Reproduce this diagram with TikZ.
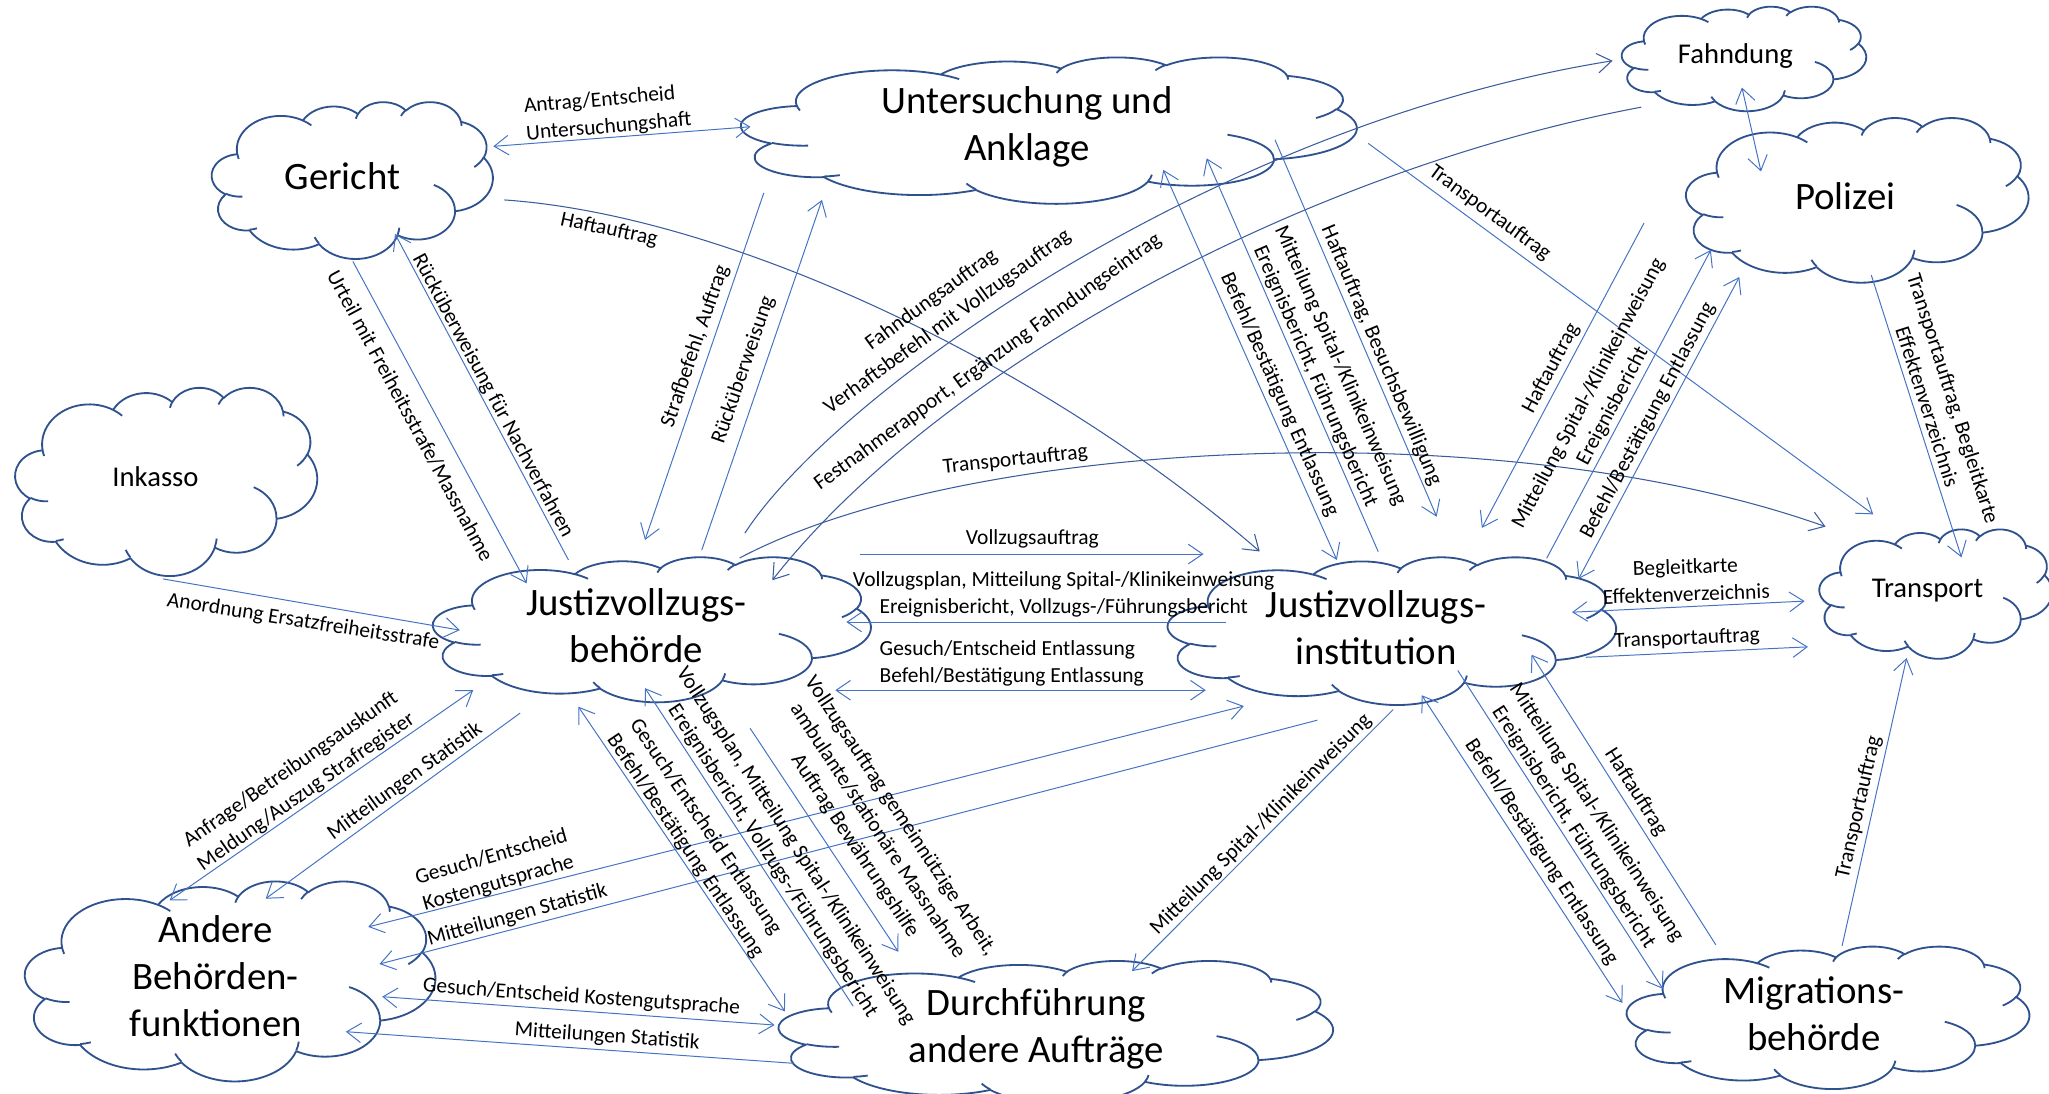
\documentclass[tikz,border=0pt]{standalone}
\usepackage{fontspec}
\setmainfont{Carlito}
\usetikzlibrary{arrows.meta,calc}

\definecolor{cloudblue}{HTML}{2F528F}
\definecolor{flowblue}{HTML}{4472C4}
\definecolor{curveblue}{HTML}{3A5C9E}

\tikzset{
  % elliptic arc given like a DrawingML arcTo: radii, visual start angle, sweep
  oarc/.code n args={4}{%
    \pgfmathsetmacro\oarcA{atan2((#1)*sin(#3),(#2)*cos(#3))}%
    \pgfmathsetmacro\oarcB{atan2((#1)*sin((#3)+(#4)),(#2)*cos((#3)+(#4)))}%
    \pgfmathsetmacro\oarcD{mod(\oarcB-\oarcA+720,360)}%
    \edef\oarcKeys{\noexpand\pgfkeysalso{start angle=\oarcA, delta angle=\oarcD, x radius=#1, y radius=#2}}%
    \oarcKeys},
  cloud outline/.style={draw=cloudblue, line width=1.4bp, line join=round},
  bigtext/.style={font=\fontsize{29.8}{36}\selectfont, align=center, inner sep=0pt},
  smalltext/.style={font=\fontsize{22}{26}\selectfont, align=center, inner sep=0pt},
  msg/.style={draw=flowblue, line width=0.75bp, ->},
  msgboth/.style={draw=flowblue, line width=0.75bp, <->},
  msgcurve/.style={draw=curveblue, line width=0.8bp, ->},
  lbl/.style={font=\fontsize{16.5}{21}\selectfont, inner sep=0pt, align=center},
}

% cloud outline of the usual office shape, text centred at (#2,#3)
\newcommand\officecloud[7]{%
  \pgfmathsetmacro\ocX{#2-0.4646*#4}%
  \pgfmathsetmacro\ocY{#3-0.477*#5}%
  \pgfmathsetmacro\ocW{#4/43.2}%
  \pgfmathsetmacro\ocH{#5/43.2}%
  \begin{scope}[shift={(\ocX,\ocY)}, x=\ocW bp, y=-\ocH bp]
    \path[cloud outline, fill=white] (3.9,14.37)
      arc[oarc={6.753}{9.19}{-190.48748}{123.78053}]
      arc[oarc={5.333}{7.267}{-144.10238}{89.94523}]
      arc[oarc={4.365}{5.945}{-145.80792}{99.72302}]
      arc[oarc={4.857}{6.595}{-130.98607}{117.24173}]
      arc[oarc={5.333}{7.273}{-78.70888}{109.02692}]
      arc[oarc={6.775}{9.22}{-46.26725}{130.269}]
      arc[oarc={5.785}{7.867}{0.62502}{114.03333}]
      arc[oarc={6.752}{9.215}{22.4516}{115.17255}]
      arc[oarc={7.72}{10.543}{66.24263}{75.71102}]
      arc[oarc={4.36}{5.918}{-274.94208}{146.73557}]
      arc[oarc={4.345}{5.945}{-246.8285}{152.51885}]
      -- cycle;
    \path[cloud outline]
      (4.693,26.177) arc[oarc={4.345}{5.945}{86.742}{26.4295}]
      (6.928,34.899) arc[oarc={4.36}{5.918}{73.61047}{11.44747}]
      (16.478,39.09) arc[oarc={6.752}{9.215}{137.62415}{14.0811}]
      (28.827,34.751) arc[oarc={6.752}{9.215}{6.45327}{15.99835}]
      (34.129,22.954) arc[oarc={5.785}{7.867}{-70.29235}{70.91737}]
      (41.798,15.354) arc[oarc={5.333}{7.273}{30.31803}{27.7515}]
      (38.324,5.426) arc[oarc={4.857}{6.595}{-13.74433}{14.8589}]
      (29.078,3.952) arc[oarc={4.857}{6.595}{-149.18145}{18.19537}]
      (22.141,4.72) arc[oarc={4.365}{5.945}{-163.49427}{17.68635}]
      (14,5.192) arc[oarc={6.753}{9.19}{-66.70695}{12.31935}]
      (4.127,15.789) arc[oarc={6.753}{9.19}{157.65435}{11.85817}];
  \end{scope}
  \node[#6] (#1) at (#2,#3) {#7};
}

\begin{document}
\begin{tikzpicture}[x=1bp, y=-1bp, >={Straight Barb[length=11bp,width=15bp]}]
\fill[white] (0,0) rectangle (1568,837);
\useasboundingbox (0,0) rectangle (1568,837);

% ---------- organisations ----------
\officecloud{ger}{262}{135}{215}{120}{bigtext}{Gericht}
\officecloud{ink}{119}{365}{231}{144}{smalltext}{Inkasso}
\officecloud{ua}{786}{97}{471}{112}{bigtext}{Untersuchung und\\Anklage}
\officecloud{fahn}{1328}{43}{187}{80}{smalltext}{Fahndung}
\officecloud{pol}{1412}{150}{262}{126}{bigtext}{Polizei}
\officecloud{trans}{1475}{452}{178}{99}{smalltext}{Transport}
\officecloud{jvb}{487}{479}{335}{111}{bigtext}{Justizvollzugs-\\behörde}
\officecloud{jvi}{1053}{480}{343}{113}{bigtext}{Justizvollzugs-\\institution}
\officecloud{abf}{165}{747}{314}{153}{bigtext}{Andere\\Behörden-\\funktionen}
\officecloud{dur}{793}{787}{424}{109}{bigtext}{Durchführung\\andere Aufträge}
\officecloud{mig}{1388}{776}{308}{109}{bigtext}{Migrations-\\behörde}

% ---------- flows ----------
% Gericht
\draw[msgboth] ($(ger)+(115.5,-23)$) -- ($(ua)+(-211.7,0)$);
\draw[msgcurve] ($(ger)+(124,18)$) .. controls +(174,12) and +(-164,-142) .. ($(jvi)+(-89,-58)$);
\draw[msg] ($(ger)+(8,65)$) -- ($(jvb)+(-84,-32.6)$);
\draw[msg] ($(jvb)+(-52,-50.5)$) -- ($(ger)+(40.3,44)$);
% Untersuchung und Anklage / Justizvollzugsbehoerde
\draw[msg] ($(ua)+(-201.5,50.6)$) -- ($(jvb)+(6.6,-65.8)$);
\draw[msg] ($(jvb)+(50,-58)$) -- ($(ua)+(-157,56)$);
% Fahndung and transport curves
\draw[msgcurve] ($(jvb)+(83,-71)$) .. controls +(70,-108) and +(-304,48.5) .. ($(fahn)+(-94,3.5)$);
\draw[msgcurve] ($(fahn)+(-72,39)$) .. controls +(-256,48) and +(129,-164) .. ($(jvb)+(104,-35)$);
\draw[msgcurve] ($(jvb)+(79,-52)$) .. controls +(174,-92) and +(-247,-88) .. ($(trans)+(-78,-49)$);
\draw[msg] ($(ua)+(261,12.7)$) -- ($(trans)+(-41.5,-58.4)$);
% Untersuchung und Anklage / Justizvollzugsinstitution
\draw[msgboth] ($(ua)+(104.2,33)$) -- ($(jvi)+(-30,-51.5)$);
\draw[msg] ($(jvi)+(1.7,-57.8)$) -- ($(ua)+(137.4,24.2)$);
\draw[msg] ($(ua)+(189.7,10)$) -- ($(jvi)+(46.4,-84.6)$);
% Polizei
\draw[msg] ($(pol)+(-154,20.8)$) -- ($(jvi)+(81,-76)$);
\draw[msg] ($(jvi)+(130.6,-52.8)$) -- ($(pol)+(-102.8,41.3)$);
\draw[msgboth] ($(pol)+(-81,62)$) -- ($(jvi)+(155,-37)$);
\draw[msgboth] ($(fahn)+(5,24)$) -- ($(pol)+(-64.4,-18.8)$);
\draw[msg] ($(pol)+(20,60.5)$) -- ($(trans)+(26,-25.5)$);
% Transport
\draw[msgboth] ($(jvi)+(150,-11.5)$) -- ($(trans)+(-94,8)$);
\draw[msg] ($(jvi)+(160.5,23)$) -- ($(trans)+(-91.5,43)$);
% Justizvollzugsbehoerde / Justizvollzugsinstitution
\draw[msg] ($(jvb)+(171,-55)$) -- ($(jvi)+(-132,-56)$);
\draw[msg] ($(jvi)+(-115,-4)$) -- ($(jvb)+(160.7,-3)$);
\draw[msgboth] ($(jvb)+(152.2,49.2)$) -- ($(jvi)+(-130.3,48.2)$);
% Inkasso
\draw[msg] ($(ink)+(5.7,78)$) -- ($(jvb)+(-135.1,3.2)$);
% Andere Behoerdenfunktionen
\draw[msgboth] ($(abf)+(-35.2,-58)$) -- ($(jvb)+(-124.9,49.1)$);
\draw[msg] ($(jvb)+(-89,66.7)$) -- ($(abf)+(38.3,-59.3)$);
\draw[msgboth] ($(abf)+(116.8,-37.7)$) -- ($(jvi)+(-101.2,60.3)$);
\draw[msg] ($(jvi)+(-44.9,71.1)$) -- ($(abf)+(125.4,-9.3)$);
\draw[msgboth] ($(abf)+(127.5,15.7)$) -- ($(dur)+(-200.3,-2.6)$);
\draw[msg] ($(dur)+(-185.6,26.7)$) -- ($(abf)+(99.7,42.5)$);
% Justizvollzugsbehoerde / Durchfuehrung
\draw[msgboth] ($(jvb)+(-44.4,61.8)$) -- ($(dur)+(-192.3,-13)$);
\draw[msg] ($(dur)+(-140.1,-17)$) -- ($(jvb)+(6.6,47.6)$);
\draw[msg] ($(jvb)+(87,78.3)$) -- ($(dur)+(-105.6,-58.7)$);
\draw[msg] ($(jvi)+(13.1,63)$) -- ($(dur)+(73.3,-43.9)$);
% Migrationsbehoerde
\draw[msgboth] ($(jvi)+(35,52)$) -- ($(mig)+(-146.5,-8.5)$);
\draw[msg] ($(jvi)+(62.5,33)$) -- ($(mig)+(-115.5,-19.3)$);
\draw[msg] ($(mig)+(-75,-53)$) -- ($(jvi)+(119,21)$);
\draw[msg] ($(mig)+(21.6,-52)$) -- ($(trans)+(-16,51.6)$);

% ---------- labels ----------
\node[lbl, align=left, rotate=5] (l1) at (465,87) {Antrag/Entscheid\\Untersuchungshaft};
\node[lbl, rotate=-12] (l2) at (466,176) {Haftauftrag};
\node[lbl, rotate=-61.6] (l3) at (314,318) {Urteil mit Freiheitsstrafe/Massnahme};
\node[lbl, rotate=-61.7] (l4) at (377,303) {Rücküberweisung für Nachverfahren};
\node[lbl, rotate=71] (l5) at (532,265) {Strafbefehl, Auftrag};
\node[lbl, rotate=71] (l6) at (569,283) {Rücküberweisung};
\node[lbl, rotate=36] (l7) at (719,238) {Fahndungsauftrag\\Verhaftsbefehl mit Vollzugsauftrag};
\node[lbl, rotate=36] (l8) at (756,277) {Festnahmerapport, Ergänzung Fahndungseintrag};
\node[lbl, rotate=6] (l9) at (777,352) {Transportauftrag};
\node[lbl, rotate=-36.3] (l10) at (1140,163) {Transportauftrag};
\node[lbl, rotate=-66] (l11) at (979,302) {Befehl/Bestätigung Entlassung};
\node[lbl, rotate=-66.5] (l12) at (1016,284) {Mitteilung Spital-/Klinikeinweisung\\Ereignisbericht, Führungsbericht};
\node[lbl, rotate=-67] (l13) at (1057,272) {Haftauftrag, Besuchsbewilligung};
\node[lbl, rotate=62] (l14) at (1187,282) {Haftauftrag};
\node[lbl, rotate=62] (l15) at (1225,306) {Mitteilung Spital-/Klinikeinweisung\\Ereignisbericht};
\node[lbl, rotate=62] (l16) at (1261,322) {Befehl/Bestätigung Entlassung};
\node[lbl, rotate=-72.3] (l17) at (1485,308) {Transportauftrag, Begleitkarte\\Effektenverzeichnis};
\node[lbl, rotate=2] (l18) at (1290,444) {Begleitkarte\\Effektenverzeichnis};
\node[lbl, rotate=2.5] (l19) at (1291,489) {Transportauftrag};
\node[lbl] (l20) at (790,412) {Vollzugsauftrag};
\node[lbl] (l21) at (814,455) {Vollzugsplan, Mitteilung Spital-/Klinikeinweisung\\Ereignisbericht, Vollzugs-/Führungsbericht};
\node[lbl, align=left, anchor=west] (l22) at (673,507.5) {Gesuch/Entscheid Entlassung\\Befehl/Bestätigung Entlassung};
\node[lbl, rotate=-9] (l23) at (232,476) {Anordnung Ersatzfreiheitsstrafe};
\node[lbl, rotate=35] (l24) at (228.5,597.4) {Anfrage/Betreibungsauskunft\\Meldung/Auszug Strafregister};
\node[lbl, rotate=36] (l25) at (310,598) {Mitteilungen Statistik};
\node[lbl, align=left, rotate=16] (l26) at (379,666) {Gesuch/Entscheid\\Kostengutsprache};
\node[lbl, rotate=15.5] (l27) at (396,700.5) {Mitteilungen Statistik};
\node[lbl, rotate=-4] (l28) at (445,763.3) {Gesuch/Entscheid Kostengutsprache};
\node[lbl, rotate=-4] (l29) at (464.6,793.3) {Mitteilungen Statistik};
\node[lbl, align=left, rotate=-56] (l30) at (533,641.5) {Gesuch/Entscheid Entlassung\\Befehl/Bestätigung Entlassung};
\node[lbl, rotate=-57] (l31) at (600,653) {Vollzugsplan, Mitteilung Spital-/Klinikeinweisung\\Ereignisbericht, Vollzugs-/Führungsbericht};
\node[lbl, rotate=-56.5] (l32) at (671.5,636) {Vollzugsauftrag gemeinnützige Arbeit,\\ambulante/stationäre Massnahme\\Auftrag Bewährungshilfe};
\node[lbl, rotate=45] (l33) at (965,631) {Mitteilung Spital-/Klinikeinweisung};
\node[lbl, rotate=-57] (l34) at (1179.5,652) {Befehl/Bestätigung Entlassung};
\node[lbl, rotate=-57] (l35) at (1212.8,627.5) {Mitteilung Spital-/Klinikeinweisung\\Ereignisbericht, Führungsbericht};
\node[lbl, rotate=-57.5] (l36) at (1251.6,606) {Haftauftrag};
\node[lbl, rotate=77.3] (l37) at (1422.6,618) {Transportauftrag};
\end{tikzpicture}
\end{document}
